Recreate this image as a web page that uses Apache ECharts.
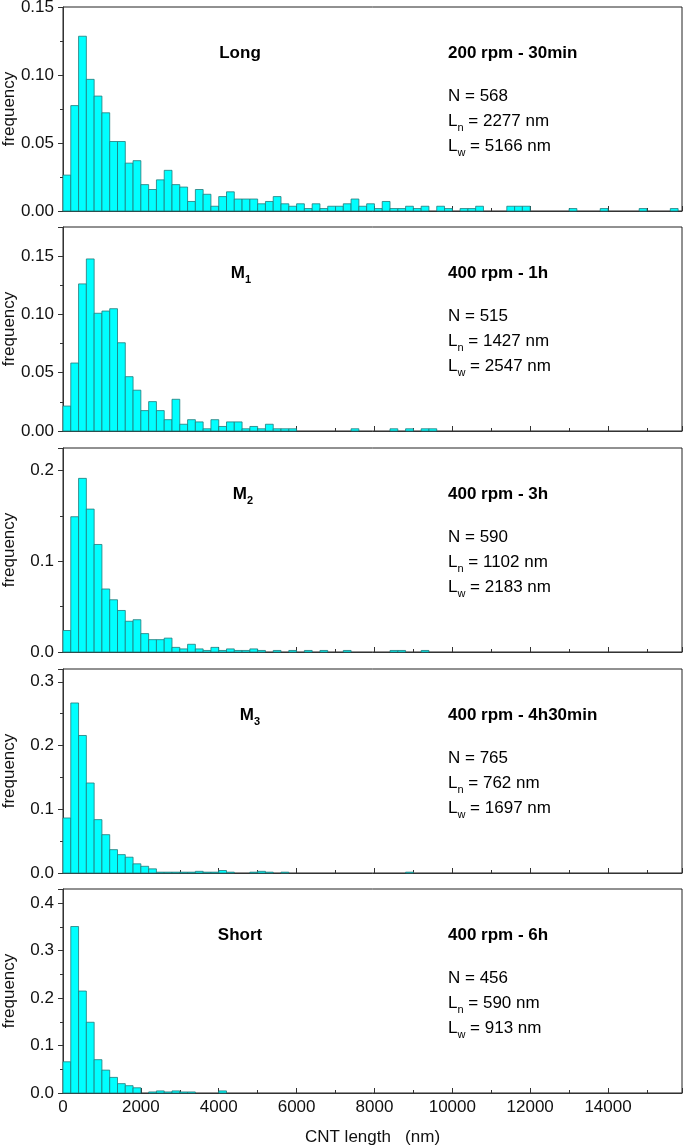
<!DOCTYPE html>
<html><head><meta charset="utf-8">
<script src="https://cdn.jsdelivr.net/npm/echarts@6/dist/echarts.min.js"></script>
<style>html,body{margin:0;padding:0;background:#fff}#c{width:685px;height:1146px}</style>
</head><body><div id="c"></div>
<script>
// ---------- DATA ----------
const BIN_WIDTH = 200; // nm
const X_MAX = 15900;
const X_TICK_STEP = 2000;

const freqLong = [0.0264,0.0775,0.1285,0.0968,0.0845,0.0722,0.0511,0.0511,0.0352,0.0370,
  0.0194,0.0158,0.0229,0.0299,0.0194,0.0176,0.0070,0.0158,0.0123,0.0035,
  0.0106,0.0141,0.0088,0.0088,0.0088,0.0053,0.0070,0.0106,0.0053,0.0035,
  0.0053,0.0018,0.0053,0.0018,0.0035,0.0035,0.0053,0.0088,0.0035,0.0053,
  0.0018,0.0070,0.0018,0.0018,0.0035,0.0018,0.0035,0,0.0035,0.0018,
  0,0.0018,0.0018,0.0035,0,0,0,0.0035,0.0035,0.0035,
  0,0,0,0,0,0.0018,0,0,0,0.0018,
  0,0,0,0,0.0018,0,0,0,0.0018,0];

const freqM1 = [0.0214,0.0583,0.1262,0.1476,0.1010,0.1029,0.1049,0.0757,0.0466,0.0350,
  0.0175,0.0252,0.0175,0.0097,0.0272,0.0058,0.0097,0.0078,0.0019,0.0097,
  0.0039,0.0078,0.0078,0.0019,0.0039,0.0019,0.0058,0.0019,0.0019,0.0019,
  0,0,0,0,0,0,0,0.0019,0,0,
  0,0,0.0019,0,0.0019,0,0.0019,0.0019,0,0];

const freqM2 = [0.0237,0.1492,0.1915,0.1576,0.1186,0.0695,0.0576,0.0458,0.0339,0.0356,
  0.0203,0.0136,0.0136,0.0153,0.0051,0.0034,0.0085,0.0034,0.0017,0.0051,
  0.0017,0.0034,0.0017,0.0017,0.0034,0.0017,0,0.0017,0,0.0017,
  0,0.0017,0,0.0017,0,0,0.0017,0,0,0,
  0,0,0.0017,0.0017,0,0,0.0017,0,0,0];

const freqM3 = [0.0863,0.2667,0.2157,0.1412,0.0837,0.0601,0.0366,0.0288,0.0248,0.0144,
  0.0105,0.0065,0.0013,0.0013,0.0013,0.0013,0.0013,0.0026,0.0013,0.0013,
  0.0039,0.0013,0,0,0.0013,0.0026,0.0013,0,0.0013,0,
  0,0,0,0,0,0,0,0,0,0,
  0,0,0,0,0.0013,0,0,0,0,0];

const freqShort = [0.0658,0.3509,0.2149,0.1491,0.0702,0.0482,0.0329,0.0197,0.0154,0.0110,
  0,0.0022,0.0044,0.0022,0.0044,0.0022,0.0022,0,0,0,
  0.0044,0,0,0,0,0,0,0,0,0];

const seriesFreqs = [freqLong, freqM1, freqM2, freqM3, freqShort];
const sampleNames = [['Long',''], ['M','1'], ['M','2'], ['M','3'], ['Short','']];
const conditions = ['200 rpm - 30min', '400 rpm - 1h', '400 rpm - 3h', '400 rpm - 4h30min', '400 rpm - 6h'];
const nValues = ['568', '515', '590', '765', '456'];
const lnValues = ['2277', '1427', '1102', '762', '590'];
const lwValues = ['5166', '2547', '2183', '1697', '913'];
const yMaxes = [0.15, 0.175, 0.225, 0.32, 0.43];
const yIntervals = [0.05, 0.05, 0.1, 0.1, 0.1];
const yDecimals = [2, 2, 1, 1, 1];
const yAxisName = 'frequency';
const xAxisName = 'CNT length   (nm)';

// ---------- LAYOUT / STYLE ----------
const FONT = "'Liberation Sans', Arial, Helvetica, sans-serif";
const GRID_LEFT = 63, GRID_RIGHT = 3, GRID_H = 204;
const GRID_TOPS = [7, 227, 448, 669, 889];
const SAMPLE_X = [240, 241, 243, 250, 240];
const INFO_X = 448;
const AX_COLOR = '#333';

const grids = [], xAxes = [], yAxes = [], series = [], graphics = [];

seriesFreqs.forEach((freqs, i) => {
  const last = i === seriesFreqs.length - 1;
  grids.push({left: GRID_LEFT, right: GRID_RIGHT, top: GRID_TOPS[i], height: GRID_H,
    show: true, borderColor: '#222', borderWidth: 1, containLabel: false, outerBoundsMode: 'none'});
  xAxes.push({type: 'value', gridIndex: i, min: 0, max: X_MAX, interval: X_TICK_STEP,
    axisLine: {show: true, lineStyle: {color: AX_COLOR, width: 1}},
    axisTick: {show: true, inside: true, length: 5, lineStyle: {color: AX_COLOR}},
    minorTick: {show: true, splitNumber: 2, length: 3, lineStyle: {color: AX_COLOR}},
    splitLine: {show: false},
    axisLabel: {show: last, showMaxLabel: false, margin: 6, color: '#111', fontSize: 17, fontFamily: FONT,
      formatter: v => String(Math.round(v))},
    name: last ? xAxisName : '', nameLocation: 'middle', nameGap: 36, nameMoveOverlap: false,
    nameTextStyle: {color: '#111', fontSize: 17, fontFamily: FONT}
  });
  const r = yMaxes[i] / yIntervals[i];
  const showMax = Math.abs(r - Math.round(r)) < 1e-9;
  const dec = yDecimals[i];
  yAxes.push({type: 'value', gridIndex: i, min: 0, max: yMaxes[i], interval: yIntervals[i],
    axisLine: {show: true, lineStyle: {color: AX_COLOR, width: 1}},
    axisTick: {show: true, inside: false, length: 5, lineStyle: {color: AX_COLOR}},
    minorTick: {show: true, splitNumber: 2, length: 3, lineStyle: {color: AX_COLOR}},
    splitLine: {show: false},
    axisLabel: {showMaxLabel: showMax, margin: 9, color: '#111', fontSize: 17, fontFamily: FONT,
      formatter: v => v.toFixed(dec)},
    name: yAxisName, nameLocation: 'middle', nameGap: 45, nameMoveOverlap: false,
    nameTextStyle: {color: '#111', fontSize: 17, fontFamily: FONT}
  });
  const data = freqs.map((f, k) => [k * BIN_WIDTH, (k + 1) * BIN_WIDTH, f]).filter(d => d[2] > 0);
  series.push({type: 'custom', xAxisIndex: i, yAxisIndex: i, data,
    encode: {x: [0, 1], y: 2},
    renderItem: (params, api) => {
      const p0 = api.coord([api.value(0), api.value(2)]);
      const p1 = api.coord([api.value(1), 0]);
      return {type: 'rect', shape: {x: p0[0], y: p0[1], width: p1[0] - p0[0], height: p1[1] - p0[1]},
        style: {fill: '#00FFFF', stroke: '#217a7a', lineWidth: 0.8}};
    }
  });

  const top = GRID_TOPS[i];
  const nm = sampleNames[i];
  graphics.push({type: 'text', x: SAMPLE_X[i], y: top + 46, style: {
    text: nm[1] ? '{b|' + nm[0] + '}{bs|' + nm[1] + '}' : '{b|' + nm[0] + '}',
    align: 'center', verticalAlign: 'middle',
    rich: {b: {fontSize: 17, fontWeight: 'bold', fontFamily: FONT, lineHeight: 24, fill: '#000'},
           bs: {fontSize: 11, fontWeight: 'bold', fontFamily: FONT, lineHeight: 11, verticalAlign: 'bottom', fill: '#000'}}
  }});
  graphics.push({type: 'text', x: INFO_X, y: top + 46, style: {
    text: conditions[i], font: 'bold 17px ' + FONT, fill: '#000', align: 'left', verticalAlign: 'middle'}});
  graphics.push({type: 'text', x: INFO_X, y: top + 89, style: {
    text: 'N = ' + nValues[i], font: '17px ' + FONT, fill: '#000', align: 'left', verticalAlign: 'middle'}});
  const rich = {a: {fontSize: 17, fontFamily: FONT, lineHeight: 24, fill: '#000'},
                s: {fontSize: 11, fontFamily: FONT, lineHeight: 11, verticalAlign: 'bottom', fill: '#000'}};
  graphics.push({type: 'text', x: INFO_X, y: top + 114, style: {
    text: '{a|L}{s|n}{a| = ' + lnValues[i] + ' nm}', rich, align: 'left', verticalAlign: 'middle'}});
  graphics.push({type: 'text', x: INFO_X, y: top + 139, style: {
    text: '{a|L}{s|w}{a| = ' + lwValues[i] + ' nm}', rich, align: 'left', verticalAlign: 'middle'}});
});

const chart = echarts.init(document.getElementById('c'), null, {renderer: 'canvas'});
chart.setOption({
  animation: false,
  backgroundColor: '#fff',
  grid: grids, xAxis: xAxes, yAxis: yAxes, series, graphic: graphics
});
</script></body></html>
